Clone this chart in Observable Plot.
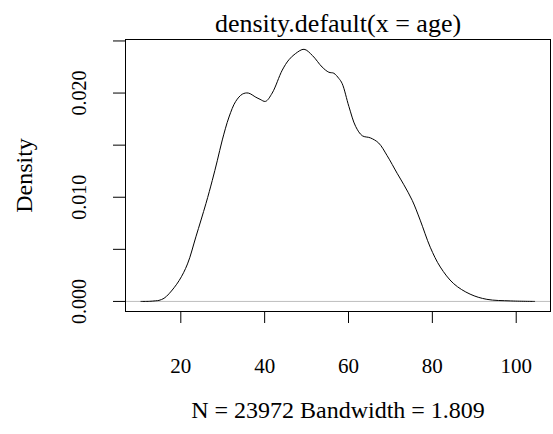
<!DOCTYPE html>
<html><head><meta charset="utf-8">
<script src="https://cdn.jsdelivr.net/npm/d3@7"></script>
<script src="https://cdn.jsdelivr.net/npm/@observablehq/plot@0.6"></script>
<style>body{margin:0;background:#fff} svg{display:block}</style>
</head><body><div id="chart"></div>
<script>
const age = [10.5, 12.5, 14.0, 14.8, 16.0, 17.2, 19.6, 21.6, 23.6, 26.0, 27.5, 28.7, 29.9, 31.5, 33.1, 34.7, 36.1, 37.9, 38.9, 40.2, 41.8, 44.2, 45.8, 47.4, 49.4, 51.4, 53.7, 55.3, 56.5, 57.7, 58.5, 60.1, 61.7, 63.3, 65.2, 67.2, 69.2, 71.6, 73.2, 75.2, 77.1, 79.5, 81.9, 85.1, 89.0, 93.0, 98.6, 104.4];
const density = [0, 0.00001, 0.00006, 0.0001, 0.0003, 0.00074, 0.0020, 0.0036, 0.0062, 0.0094, 0.0116, 0.0135, 0.0155, 0.0177, 0.0192, 0.0199, 0.0200, 0.0196, 0.0194, 0.0192, 0.0200, 0.0222, 0.0232, 0.0238, 0.0242, 0.0236, 0.0225, 0.0220, 0.0219, 0.0214, 0.0209, 0.0187, 0.0168, 0.0159, 0.0157, 0.0152, 0.0140, 0.0123, 0.0112, 0.0097, 0.0078, 0.0052, 0.0033, 0.0017, 0.0007, 0.0002, 0.00005, 0];
const xTicks = [20, 40, 60, 80, 100];
const yTicks = [0, 0.005, 0.01, 0.015, 0.02, 0.025];
const yTickLabels = ["0.000", "", "0.010", "", "0.020", ""];
const title = "density.default(x = age)";
const xLabel = "N = 23972 Bandwidth = 1.809";
const yLabel = "Density";

const data = age.map((a, i) => ({age: a, density: density[i]}));

const chart = Plot.plot({
  width: 553, height: 434,
  marginLeft: 125, marginRight: 3, marginTop: 39, marginBottom: 123,
  style: {fontFamily: "'Liberation Serif', serif", background: "#fff", color: "#000"},
  x: {domain: [6.81, 108.18]},
  y: {domain: [-0.000967, 0.02514]},
  marks: [
    Plot.ruleY([0], {stroke: "#bebebe"}),
    Plot.line(data, {x: "age", y: "density", stroke: "#000", strokeWidth: 1, curve: "catmull-rom"}),
    Plot.frame({stroke: "#000"}),
    Plot.axisX({ticks: xTicks, tickSize: 12, tickPadding: 35, fontSize: 21, label: null, tickFormat: d => String(d)}),
    Plot.axisY({ticks: yTicks, tickSize: 12, tickPadding: 28, tickRotate: -90, fontSize: 20, label: null,
      tickFormat: d => yTickLabels[yTicks.indexOf(d)]}),
    Plot.text([title], {frameAnchor: "top", lineAnchor: "middle", dy: -16, fontSize: 26}),
    Plot.text([xLabel], {frameAnchor: "bottom", lineAnchor: "middle", dy: 99, fontSize: 24}),
    Plot.text([yLabel], {frameAnchor: "left", textAnchor: "middle", lineAnchor: "middle", dx: -101, rotate: -90, fontSize: 24})
  ]
});
document.getElementById("chart").appendChild(chart);
</script>
</body></html>
